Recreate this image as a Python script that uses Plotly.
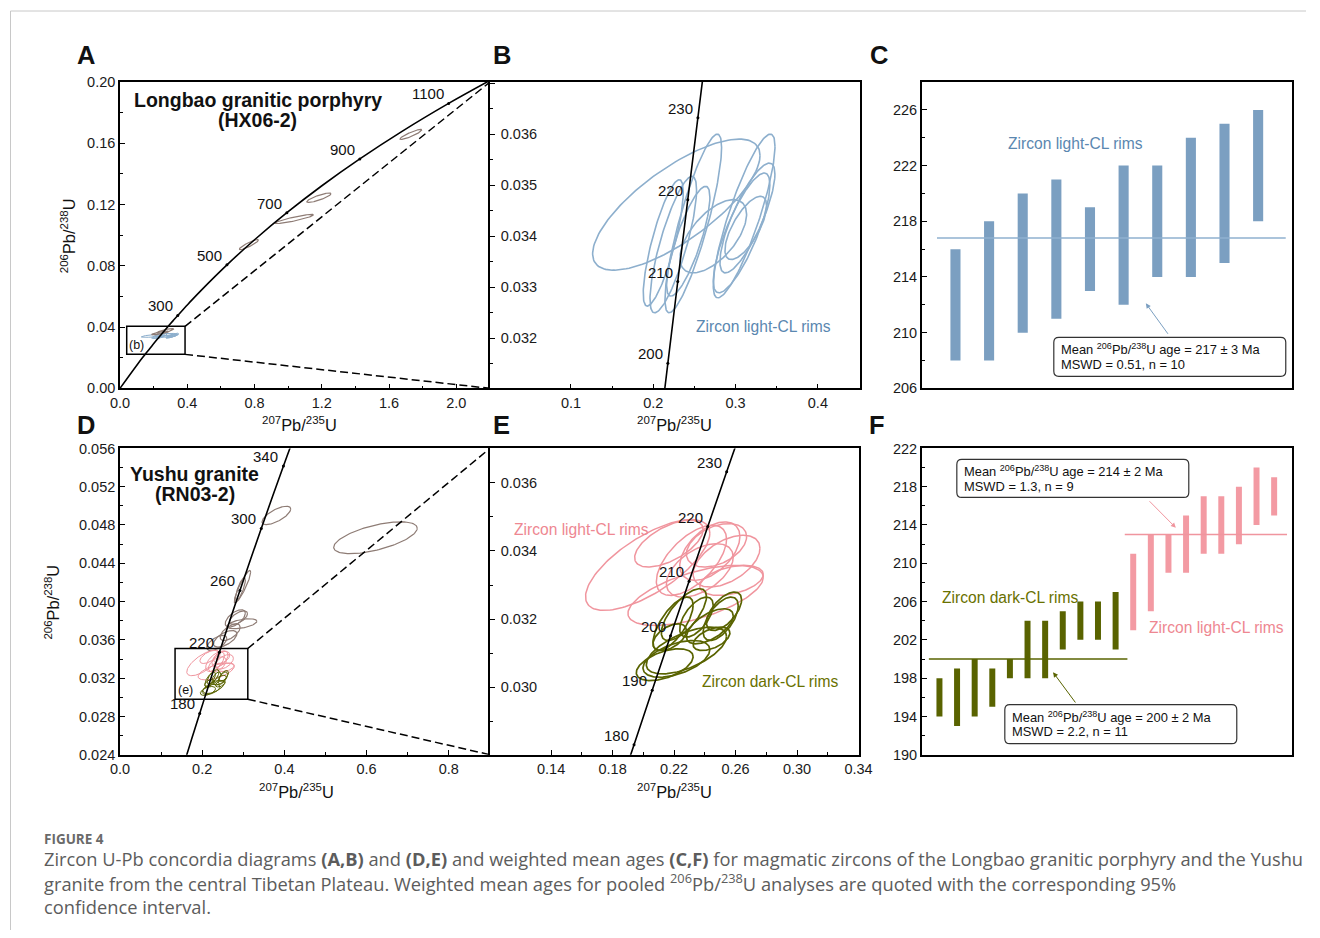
import numpy as np
import plotly.graph_objects as go

# Page geometry: the photographed page shows the figure slightly reduced and offset, so
# reference pixel positions are mapped through this calibration.
W, H = 1320, 938
SC, OXI, OYI = 0.982, 10.0, 8.0
FONT = "Liberation Sans, Arial, sans-serif"

# ---------------- data ----------------
# Concordia reference points: age (Ma), 207Pb/235U, 206Pb/238U
conc_age = [0, 100, 140, 150, 160, 170, 180, 190, 200, 210, 220, 230, 240, 260, 280,
            300, 320, 340, 360, 400, 500, 600, 700, 800, 900, 1000, 1100, 1181]
conc_x = [0.0, 0.10350, 0.14784, 0.15920, 0.17067, 0.18226, 0.19396, 0.20577, 0.21771,
          0.22976, 0.24193, 0.25422, 0.26664, 0.29183, 0.31753, 0.34374, 0.37047, 0.39773,
          0.42553, 0.4828, 0.6363, 0.8056, 0.9925, 1.1987, 1.4263, 1.6774, 1.9545, 2.2]
conc_y = [0.0, 0.015633, 0.021955, 0.023542, 0.025131, 0.026722, 0.028316, 0.029912,
          0.031511, 0.033113, 0.034717, 0.036323, 0.037932, 0.041157, 0.044392, 0.047637,
          0.050893, 0.054158, 0.057434, 0.064016, 0.08065, 0.09754, 0.11470, 0.13213,
          0.14983, 0.16781, 0.18607, 0.20107]

A_age_labels = [300, 500, 700, 900, 1100]
B_age_labels = [200, 210, 220, 230]
D_age_labels = [180, 220, 260, 300, 340]
E_age_labels = [180, 190, 200, 210, 220, 230]

# Error ellipses: centre x, centre y, half-extent x, half-extent y, correlation
B_light_cx = [0.2280, 0.2121, 0.2243, 0.2486, 0.2425, 0.3104, 0.3144, 0.3073, 0.3124, 0.2729]
B_light_cy = [0.034619, 0.033870, 0.033837, 0.034251, 0.033902, 0.034397, 0.034358, 0.034065, 0.034163, 0.034000]
B_light_sx = [0.1017, 0.0243, 0.0283, 0.0344, 0.0263, 0.0375, 0.0334, 0.0344, 0.0253, 0.0405]
B_light_sy = [0.001284, 0.001238, 0.001336, 0.001749, 0.001075, 0.001603, 0.001075, 0.001173, 0.000619, 0.000717]
B_light_rho = [0.75, 0.8, 0.8, 0.85, 0.8, 0.85, 0.8, 0.8, 0.7, 0.6]

A_old_cx = [1.73, 1.183, 1.037, 0.767, 0.27, 0.24]
A_old_cy = [0.1658, 0.1245, 0.1106, 0.0939, 0.0375, 0.0362]
A_old_sx = [0.065, 0.072, 0.114, 0.057, 0.05, 0.05]
A_old_sy = [0.0033, 0.0031, 0.0030, 0.0033, 0.0015, 0.0012]
A_old_rho = [0.9, 0.85, 0.9, 0.9, 0.8, 0.8]

D_old_cx = [0.6215, 0.3805, 0.298, 0.293, 0.2805, 0.2965, 0.268, 0.2559, 0.2356, 0.2883]
D_old_cy = [0.04667, 0.0490, 0.04155, 0.0413, 0.03824, 0.03768, 0.0368, 0.03611, 0.03567, 0.03832]
D_old_sx = [0.1016, 0.035, 0.020, 0.012, 0.0245, 0.0365, 0.0244, 0.0284, 0.0244, 0.022]
D_old_sy = [0.00166, 0.00096, 0.0017, 0.0012, 0.00091, 0.00052, 0.00087, 0.00087, 0.00079, 0.0007]
D_old_rho = [0.6, 0.7, 0.9, 0.8, 0.6, 0.5, 0.6, 0.6, 0.6, 0.6]

E_light_cx = [0.20283, 0.23402, 0.21663, 0.2313, 0.24326, 0.25413, 0.25739, 0.23674, 0.24761]
E_light_cy = [0.033589, 0.032696, 0.034216, 0.033725, 0.033995, 0.033701, 0.033137, 0.033431, 0.034167]
E_light_sx = [0.04043, 0.04402, 0.02228, 0.02283, 0.01957, 0.02174, 0.02065, 0.02174, 0.01957]
E_light_sy = [0.001333, 0.000882, 0.000686, 0.00103, 0.000858, 0.00076, 0.000441, 0.000784, 0.000637]
E_light_rho = [0.7, 0.6, 0.6, 0.6, 0.5, 0.5, 0.4, 0.5, 0.4]

E_dark_cx = [0.21391, 0.22152, 0.22804, 0.21935, 0.22641, 0.23457, 0.24326, 0.2525, 0.25033, 0.24435, 0.21717]
E_dark_cy = [0.030662, 0.030833, 0.031078, 0.031863, 0.032132, 0.032059, 0.03179, 0.03223, 0.03201, 0.031422, 0.03147]
E_dark_sx = [0.01848, 0.02174, 0.02609, 0.01304, 0.01467, 0.01087, 0.01522, 0.01141, 0.01141, 0.01196, 0.01087]
E_dark_sy = [0.000466, 0.00054, 0.000686, 0.000784, 0.00076, 0.000588, 0.000515, 0.000564, 0.000637, 0.000343, 0.000392]
E_dark_rho = [0.5, 0.5, 0.6, 0.7, 0.7, 0.6, 0.6, 0.6, 0.6, 0.5, 0.5]

# zoom boxes [x0, x1, y0, y1]
A_box = [0.04, 0.387, 0.0222, 0.0405]
D_box = [0.134, 0.311, 0.0298, 0.0351]

# weighted mean plots (age ranges, Ma)
C_low = [208, 208, 210, 211, 213, 212, 214, 214, 215, 218]
C_high = [216, 218, 220, 221, 219, 222, 222, 224, 225, 226]
C_mean = 216.8

F_dark_low = [194, 193, 194, 195, 198, 198, 198, 201, 202, 202, 201]
F_dark_high = [198, 199, 200, 199, 200, 204, 204, 205, 206, 206, 207]
F_light_low = [203, 205, 209, 209, 211, 211, 212, 214, 215]
F_light_high = [211, 213, 213, 215, 217, 217, 218, 220, 219]
F_dark_mean = 200
F_light_mean = 213

# ---------------- styling ----------------
BLUE_E = "#8dafcd"
BLUE_BAR = "#7b9fc1"
BLUE_TXT = "#5a87b0"
BROWN = "#8e7c75"
PINK = "#f0959e"
PINK_TXT = "#ee8791"
GREEN = "#596300"
GREEN_TXT = "#697100"

AX = {'A': ('x', 'y'), 'B': ('x2', 'y2'), 'C': ('x3', 'y3'),
      'D': ('x4', 'y4'), 'E': ('x5', 'y5'), 'F': ('x6', 'y6')}

fig = go.Figure()


def PX(px):
    return ((px - OXI) / SC) / W


def PY(py):
    return 1 - ((py - OYI) / SC) / H


def ell_xy(cxs, cys, sxs, sys_, rhos):
    t = np.linspace(0, 2 * np.pi, 140)
    xs, ys = [], []
    for cx, cy, sx, sy, r in zip(cxs, cys, sxs, sys_, rhos):
        xs += list(cx + sx * np.cos(t)) + [None]
        ys += list(cy + sy * (r * np.cos(t) + np.sqrt(1 - r * r) * np.sin(t))) + [None]
    return xs, ys


def add_line(panel, x, y, color='black', width=1.5, dash=None, shape='linear'):
    xa, ya = AX[panel]
    fig.add_trace(go.Scatter(x=x, y=y, mode='lines',
                             line=dict(color=color, width=width, dash=dash, shape=shape),
                             xaxis=xa, yaxis=ya, hoverinfo='skip', showlegend=False))


def add_ell(panel, data, color, width=1.3):
    x, y = ell_xy(*data)
    add_line(panel, x, y, color=color, width=width)


def add_conc(panel, ages):
    add_line(panel, conc_x, conc_y, width=1.6, shape='spline')
    xa, ya = AX[panel]
    idx = [conc_age.index(a) for a in ages]
    fig.add_trace(go.Scatter(x=[conc_x[i] for i in idx], y=[conc_y[i] for i in idx],
                             mode='markers', marker=dict(size=3, color='black'),
                             xaxis=xa, yaxis=ya, hoverinfo='skip', showlegend=False))
    for i in idx:
        fig.add_annotation(x=conc_x[i], y=conc_y[i], xref=xa, yref=ya, text=str(conc_age[i]),
                           showarrow=False, xanchor='right', yanchor='bottom', xshift=-3, yshift=-1,
                           font=dict(family=FONT, size=15, color='#111'))


def add_box(panel, box, right):
    xa, ya = AX[panel]
    fig.add_shape(type='rect', xref=xa, yref=ya, x0=box[0], x1=box[1], y0=box[2], y1=box[3],
                  line=dict(color='black', width=1.5))
    add_line(panel, [box[1], right[0], None, box[1], right[0]],
             [box[3], right[2], None, box[2], right[1]], dash='8px,4px', width=1.5)


# ---- Panel A ----
add_ell('A', (B_light_cx, B_light_cy, B_light_sx, B_light_sy, B_light_rho), BLUE_E, 1.0)
add_ell('A', (A_old_cx, A_old_cy, A_old_sx, A_old_sy, A_old_rho), BROWN, 1.2)
add_conc('A', A_age_labels)
add_box('A', A_box, (2.2, 0.0, 0.2))

# ---- Panel B ----
add_ell('B', (B_light_cx, B_light_cy, B_light_sx, B_light_sy, B_light_rho), BLUE_E, 1.6)
add_conc('B', B_age_labels)

# ---- Panel D ----
add_ell('D', (D_old_cx, D_old_cy, D_old_sx, D_old_sy, D_old_rho), BROWN, 1.2)
add_ell('D', (E_light_cx, E_light_cy, E_light_sx, E_light_sy, E_light_rho), PINK, 1.0)
add_ell('D', (E_dark_cx, E_dark_cy, E_dark_sx, E_dark_sy, E_dark_rho), GREEN, 1.0)
add_conc('D', D_age_labels)
add_box('D', D_box, (0.9, 0.024, 0.056))

# ---- Panel E ----
add_ell('E', (E_light_cx, E_light_cy, E_light_sx, E_light_sy, E_light_rho), PINK, 1.5)
add_ell('E', (E_dark_cx, E_dark_cy, E_dark_sx, E_dark_sy, E_dark_rho), GREEN, 1.7)
add_conc('E', E_age_labels)

# ---- Panel C ----
c_idx = list(range(1, len(C_low) + 1))
fig.add_trace(go.Bar(x=c_idx, y=[h - l for h, l in zip(C_high, C_low)], base=C_low, width=0.3,
                     marker=dict(color=BLUE_BAR, line=dict(width=0)), xaxis='x3', yaxis='y3',
                     hoverinfo='skip', showlegend=False))
add_line('C', [0.45, 10.82], [C_mean, C_mean], color="#8fb1cf", width=1.3)

# ---- Panel F ----
fd_idx = list(range(1, len(F_dark_low) + 1))
fl_idx = list(range(len(F_dark_low) + 1, len(F_dark_low) + len(F_light_low) + 1))
fig.add_trace(go.Bar(x=fd_idx, y=[h - l for h, l in zip(F_dark_high, F_dark_low)], base=F_dark_low,
                     width=0.34, marker=dict(color=GREEN, line=dict(width=0)), xaxis='x6', yaxis='y6',
                     hoverinfo='skip', showlegend=False))
fig.add_trace(go.Bar(x=fl_idx, y=[h - l for h, l in zip(F_light_high, F_light_low)], base=F_light_low,
                     width=0.34, marker=dict(color="#f39aa3", line=dict(width=0)), xaxis='x6', yaxis='y6',
                     hoverinfo='skip', showlegend=False))
add_line('F', [0.40, 11.67], [F_dark_mean, F_dark_mean], color=GREEN, width=1.4)
add_line('F', [11.52, 20.73], [F_light_mean, F_light_mean], color=PINK, width=1.4)


# ---------------- axes ----------------
def dom_x(p0, p1):
    return [PX(p0), PX(p1)]


def dom_y(p0, p1):
    return [PY(p1), PY(p0)]


def axis(**kw):
    d = dict(showline=True, linecolor='black', linewidth=1.5, mirror=True, showgrid=False,
             zeroline=False, ticks='inside', ticklen=5, tickwidth=1, tickcolor='black',
             tickfont=dict(family=FONT, size=14.5, color='#1a1a1a'), fixedrange=True)
    d.update(kw)
    return d


def minor(dt, t0=0):
    return dict(ticks='inside', ticklen=3, tickcolor='black', dtick=dt, tick0=t0, showgrid=False)


noticks = dict(ticks='', showticklabels=False)

fig.update_layout(
    width=W, height=H, margin=dict(l=0, r=0, t=0, b=0), autosize=False,
    paper_bgcolor='white', plot_bgcolor='white', showlegend=False, barmode='overlay',
    xaxis=axis(domain=dom_x(120, 490), range=[0, 2.2], dtick=0.4, tick0=0, tickformat='.1f',
               minor=minor(0.2), anchor='y'),
    yaxis=axis(domain=dom_y(82, 388), range=[0, 0.2], dtick=0.04, tick0=0, tickformat='.2f',
               minor=minor(0.02), anchor='x', mirror=False),
    xaxis2=axis(domain=dom_x(490, 860), range=[0.0015, 0.451], dtick=0.1, tick0=0.1, tickformat='.1f',
                minor=minor(0.05), anchor='y2'),
    yaxis2=axis(domain=dom_y(82, 388), range=[0.03102, 0.03702], dtick=0.001, tick0=0.032,
                tickformat='.3f', ticklabelposition='inside', ticklabelstandoff=6,
                minor=minor(0.0005, 0.0315), anchor='x2'),
    xaxis3=axis(domain=dom_x(922, 1292), range=[0, 11], anchor='y3', **noticks),
    yaxis3=axis(domain=dom_y(82, 388), range=[206, 228], dtick=4, tick0=206,
                minor=minor(2, 206), anchor='x3'),
    xaxis4=axis(domain=dom_x(120, 490), range=[0, 0.9], dtick=0.2, tick0=0, tickformat='.1f',
                minor=minor(0.1), anchor='y4'),
    yaxis4=axis(domain=dom_y(448, 754), range=[0.024, 0.056], dtick=0.004, tick0=0.024,
                tickformat='.3f', minor=minor(0.002, 0.024), anchor='x4', mirror=False),
    xaxis5=axis(domain=dom_x(490, 859), range=[0.1002, 0.3402], dtick=0.04, tick0=0.14,
                tickformat='.2f', minor=minor(0.02, 0.10), anchor='y5'),
    yaxis5=axis(domain=dom_y(448, 754), range=[0.02802, 0.03701], dtick=0.002, tick0=0.030,
                tickformat='.3f', ticklabelposition='inside', ticklabelstandoff=6,
                minor=minor(0.001, 0.029), anchor='x5'),
    xaxis6=axis(domain=dom_x(922, 1292), range=[0, 21], anchor='y6', **noticks),
    yaxis6=axis(domain=dom_y(448, 754), range=[190, 222], dtick=4, tick0=190,
                minor=minor(2, 190), anchor='x6'),
)


# ---------------- text ----------------
def txt(px, py, text, size=14, color='#111', bold=False, xanchor='center', yanchor='middle',
        angle=0, family=FONT):
    if bold:
        text = '<b>' + text + '</b>'
    fig.add_annotation(x=PX(px), y=PY(py), xref='paper', yref='paper', text=text,
                       showarrow=False, xanchor=xanchor, yanchor=yanchor, textangle=angle,
                       font=dict(family=family, size=size, color=color))


# panel letters
for L, (lx, ly) in {'A': (86, 55), 'B': (502, 55), 'C': (879, 55),
                    'D': (86, 425), 'E': (502, 425), 'F': (877, 425)}.items():
    txt(lx, ly, L, size=25.5, bold=True, color='#111')

PBU_X = '<sup>207</sup>Pb/<sup>235</sup>U'
PBU_Y = '<sup>206</sup>Pb/<sup>238</sup>U'
txt(300, 424, PBU_X, size=16.4)
txt(675, 424, PBU_X, size=16.4)
txt(297, 790, PBU_X, size=16.4)
txt(675, 790, PBU_X, size=16.4)
txt(68, 235, PBU_Y, size=16.4, angle=-90)
txt(52, 601, PBU_Y, size=16.4, angle=-90)

txt(258, 100, 'Longbao granitic porphyry', size=19.5, bold=True)
txt(258, 120, '(HX06-2)', size=19.5, bold=True)
txt(195, 474, 'Yushu granite', size=19.5, bold=True)
txt(195, 494, '(RN03-2)', size=19.5, bold=True)
txt(137, 345, '(b)', size=12.5)
txt(186, 689, '(e)', size=12.5)

txt(764, 326, 'Zircon light-CL rims', size=15.6, color=BLUE_TXT)
txt(1076, 143, 'Zircon light-CL rims', size=15.6, color=BLUE_TXT)
txt(582, 529, 'Zircon light-CL rims', size=15.6, color=PINK_TXT)
txt(771, 681, 'Zircon dark-CL rims', size=15.6, color=GREEN_TXT)
txt(1011, 597, 'Zircon dark-CL rims', size=15.6, color=GREEN_TXT)
txt(1217, 627, 'Zircon light-CL rims', size=15.6, color=PINK_TXT)


def rrect(x0, y0, x1, y1, r=5):
    def P(px, py):
        return f"{PX(px):.6f},{PY(py):.6f}"
    return (f"M{P(x0 + r, y0)} L{P(x1 - r, y0)} Q{P(x1, y0)} {P(x1, y0 + r)} "
            f"L{P(x1, y1 - r)} Q{P(x1, y1)} {P(x1 - r, y1)} L{P(x0 + r, y1)} "
            f"Q{P(x0, y1)} {P(x0, y1 - r)} L{P(x0, y0 + r)} Q{P(x0, y0)} {P(x0 + r, y0)} Z")


def mean_box(x0, y0, x1, y1, line1, line2, ly1, ly2):
    fig.add_shape(type='path', xref='paper', yref='paper', path=rrect(x0, y0, x1, y1),
                  line=dict(color='#333', width=1.2), fillcolor='white')
    txt(x0 + 5, ly1, line1, size=12.9, xanchor='left')
    txt(x0 + 5, ly2, line2, size=12.9, xanchor='left')


mean_box(1054, 337, 1286, 376, 'Mean <sup>206</sup>Pb/<sup>238</sup>U age = 217 ± 3 Ma',
         'MSWD = 0.51, n = 10', 349, 364)
mean_box(957, 459, 1189, 497, 'Mean <sup>206</sup>Pb/<sup>238</sup>U age = 214 ± 2 Ma',
         'MSWD = 1.3, n = 9', 471, 486)
mean_box(1005, 704, 1237, 743, 'Mean <sup>206</sup>Pb/<sup>238</sup>U age = 200 ± 2 Ma',
         'MSWD = 2.2, n = 11', 716, 731)

# arrows from boxes to the mean lines
for (hx, hy, tx, ty, xa, ya, col) in [(6.66, 212.11, 7.35, 209.81, 'x3', 'y3', BLUE_BAR),
                                      (14.42, 213.71, 12.84, 216.64, 'x6', 'y6', PINK),
                                      (7.45, 198.61, 8.78, 195.3, 'x6', 'y6', GREEN)]:
    fig.add_annotation(x=hx, y=hy, ax=tx, ay=ty, xref=xa, yref=ya, axref=xa, ayref=ya,
                       text='', showarrow=True, arrowhead=2, arrowsize=1, arrowwidth=1,
                       arrowcolor=col)

# page frame lines
fig.add_shape(type='line', xref='paper', yref='paper', x0=PX(10.5), x1=1, y0=PY(11), y1=PY(11),
              line=dict(color='#c8c8c8', width=1))
fig.add_shape(type='line', xref='paper', yref='paper', x0=PX(10.5), x1=PX(10.5), y0=0, y1=PY(11),
              line=dict(color='#c8c8c8', width=1))

# caption
CAP = "Open Sans, Noto Sans, sans-serif"
CAPC = '#5c5c5c'
txt(42, 838, '<b>FIGURE 4</b>', size=13.5, color='#6a6a6a', xanchor='left', family=CAP)
txt(42, 858, 'Zircon U-Pb concordia diagrams <b>(A,B)</b> and <b>(D,E)</b> and weighted mean ages '
             '<b>(C,F)</b> for magmatic zircons of the Longbao granitic porphyry and the Yushu',
    size=18.3, color=CAPC, xanchor='left', family=CAP)
txt(42, 882, 'granite from the central Tibetan Plateau. Weighted mean ages for pooled '
             '<sup>206</sup>Pb/<sup>238</sup>U analyses are quoted with the corresponding 95%',
    size=18.3, color=CAPC, xanchor='left', family=CAP)
txt(42, 906, 'confidence interval.', size=18.3, color=CAPC, xanchor='left', family=CAP)

fig.write_html("out.html", config={'displayModeBar': False},
               post_script="document.body.style.margin='0';document.body.style.padding='0';"
                           "document.documentElement.style.overflow='hidden';")
